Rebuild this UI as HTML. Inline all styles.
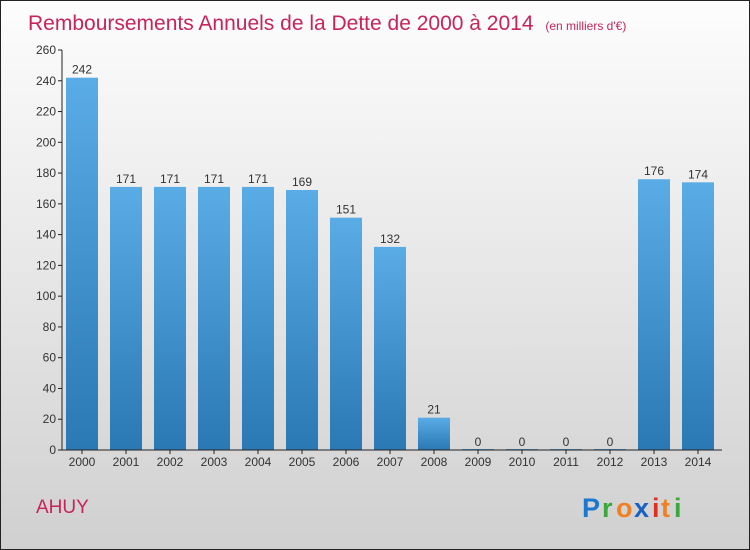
<!DOCTYPE html>
<html><head><meta charset="utf-8"><style>
body{margin:0;width:750px;height:550px;overflow:hidden}
svg{display:block;font-family:"Liberation Sans",sans-serif}
</style></head><body>
<svg id="c" width="750" height="550">
<defs>
<linearGradient id="bg" x1="0" y1="0" x2="0" y2="1"><stop offset="0" stop-color="#fdfdfd"/><stop offset="1" stop-color="#d0d0d0"/></linearGradient>
<linearGradient id="bar" x1="0" y1="0" x2="0" y2="1"><stop offset="0" stop-color="#5aace6"/><stop offset="1" stop-color="#2a78b4"/></linearGradient>
</defs>
<rect x="0.5" y="0.5" width="749" height="549" fill="url(#bg)" stroke="#222"/>
<text x="28" y="30" font-size="21" fill="#c8245a">Remboursements Annuels de la Dette de 2000 à 2014 <tspan font-size="12" dx="6">(en milliers d'€)</tspan></text>
<text x="36" y="513" font-size="19" fill="#c8245a">AHUY</text>
<g font-size="27" font-weight="bold">
<text x="582" y="517" fill="#1a78d0">P</text><text x="602" y="517" fill="#3aa83a">r</text><text x="616" y="517" fill="#f08020">o</text><text x="634" y="517" fill="#1a60c0">x</text><text x="652" y="517" fill="#e03020">i</text><text x="661" y="517" fill="#f08020">t</text><text x="674" y="517" fill="#3aa83a">i</text>
</g>
<g id="plot"></g>
</svg>
<script>
const categories=["2000","2001","2002","2003","2004","2005","2006","2007","2008","2009","2010","2011","2012","2013","2014"];
const values=[242,171,171,171,171,169,151,132,21,0,0,0,0,176,174];
const ticks=[0,20,40,60,80,100,120,140,160,180,200,220,240,260];
const NS="http://www.w3.org/2000/svg";
const g=document.getElementById('plot');
const y0=450,y1=50,vmax=260,x0=62,step=44,bw=32;
const y=v=>y0-(v/vmax)*(y0-y1);
const xc=i=>82+i*step;
function mk(t,a){const e=document.createElementNS(NS,t);for(const k in a)e.setAttribute(k,a[k]);g.appendChild(e);return e;}
ticks.forEach(t=>{
 const l=mk('line',{x1:x0-4,x2:x0,y1:y(t),y2:y(t),stroke:'#222'});
 
 
 const tx=mk('text',{x:x0-6,y:y(t)+4,'text-anchor':'end','font-size':12,fill:'#333'});
 tx.textContent=t;
 
 
});
values.forEach((v,i)=>{
 const h=Math.max(y0-y(v),1);
 const r=mk('rect',{x:xc(i)-bw/2,y:y0-h,width:bw,height:h,fill:'url(#bar)'});
 
 
 const t=mk('text',{x:xc(i),y:y(v)-4,'text-anchor':'middle','font-size':12,fill:'#333'});
 t.textContent=v;
 
 
 const tk=mk('line',{x1:xc(i),x2:xc(i),y1:y0,y2:y0+4,stroke:'#222'});
 
 
 const c=mk('text',{x:xc(i),y:y0+16,'text-anchor':'middle','font-size':12,fill:'#333'});
 c.textContent=categories[i];
 
 
});
const ya=mk('line',{x1:x0,x2:x0,y1:y1,y2:y0,stroke:'#222'});


const xa=mk('line',{x1:x0,x2:722,y1:y0,y2:y0,stroke:'#222'});


</script>
</body></html>
